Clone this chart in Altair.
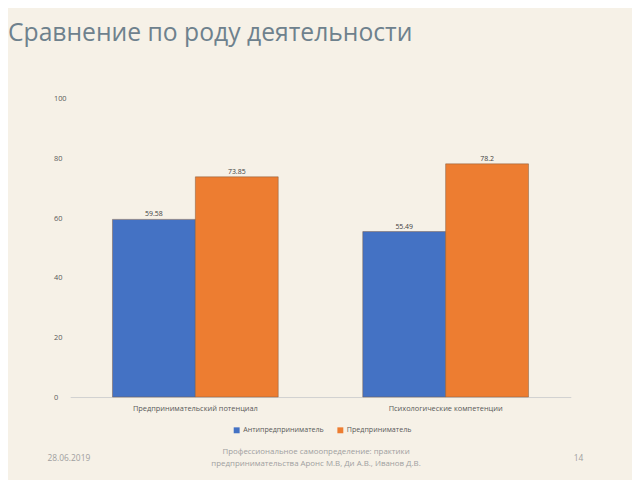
import altair as alt
import pandas as pd

categories = ["Предпринимательский потенциал", "Психологические компетенции"]
series = ["Антипредприниматель", "Предприниматель"]
anti_values = [59.58, 55.49]
pred_values = [73.85, 78.2]
anti_labels = ["59.58", "55.49"]
pred_labels = ["73.85", "78.2"]
y_ticks = [0, 20, 40, 60, 80, 100]
colors = ["#4472C4", "#ED7D31"]

rows = []
for i, c in enumerate(categories):
    rows.append({"cat": c, "ser": series[0], "val": anti_values[i], "lab": anti_labels[i]})
    rows.append({"cat": c, "ser": series[1], "val": pred_values[i], "lab": pred_labels[i]})
df = pd.DataFrame(rows)

FONT = "Open Sans"

x_enc = alt.X("cat:N", sort=categories, title=None,
              scale=alt.Scale(paddingInner=0, paddingOuter=0),
              axis=alt.Axis(labelAngle=0, ticks=False, labelPadding=8, labelFontSize=7.5,
                            labelColor="#595959", labelFont=FONT, domainColor="#d0d0d0",
                            domainWidth=1, labelLimit=300))
xo_enc = alt.XOffset("ser:N", sort=series,
                     scale=alt.Scale(paddingOuter=0.51, paddingInner=0))
y_enc = alt.Y("val:Q", title=None,
              scale=alt.Scale(domain=[0, 100], nice=False),
              axis=alt.Axis(values=y_ticks, grid=False, domain=False, ticks=False,
                            labelAlign="left", labelPadding=17, labelFontSize=7.5,
                            labelColor="#595959", labelFont=FONT))
color_enc = alt.Color("ser:N", sort=series,
                      scale=alt.Scale(domain=series, range=colors),
                      legend=alt.Legend(title=None, orient="none", legendX=165, legendY=332,
                                        direction="horizontal", symbolType="square",
                                        symbolSize=36, symbolStrokeWidth=0,
                                        labelFontSize=7.2, labelColor="#595959", labelFont=FONT,
                                        labelOffset=3, columnPadding=13, padding=0))

bars = alt.Chart(df).mark_bar(strokeWidth=0.8, strokeOpacity=0.6, stroke="#7a5a40").encode(
    x=x_enc, xOffset=xo_enc, y=y_enc, color=color_enc)

labels = alt.Chart(df).mark_text(dy=-5, fontSize=7, color="#404040", font=FONT).encode(
    x=alt.X("cat:N", sort=categories), xOffset=alt.XOffset("ser:N", sort=series),
    y="val:Q", text="lab:N")

footer_df = pd.DataFrame({
    "t": ["28.06.2019", "Профессиональное самоопределение: практики",
          "предпринимательства Аронс М.В, Ди А.В., Иванов Д.В.", "14"],
    "px": [-23, 249, 249, 510],
    "py": [364, 358, 370, 364],
    "al": ["left", "center", "center", "left"],
})
foot_left = alt.Chart(footer_df[footer_df.al == "left"]).mark_text(
    align="left", baseline="middle", fontSize=8.5, color="#a0a0a0", font=FONT).encode(
    x=alt.X("px:Q", scale=None), y=alt.Y("py:Q", scale=None), text="t:N")
foot_center = alt.Chart(footer_df[footer_df.al == "center"]).mark_text(
    align="center", baseline="middle", fontSize=8, color="#a0a0a0", font=FONT).encode(
    x=alt.X("px:Q", scale=None), y=alt.Y("py:Q", scale=None), text="t:N")

chart = alt.layer(bars, labels, foot_left, foot_center).properties(
    width=507, height=302,
    autosize=alt.AutoSizeParams(type="none"),
    padding={"left": 63, "top": 89, "right": 62, "bottom": 81},
    background="#F6F1E7",
    title=alt.TitleParams("Сравнение по роду деятельности", anchor="start", dx=-63,
                          offset=50, fontSize=25, font=FONT, fontWeight="normal",
                          color="#6E818D", frame="group"),
).configure_view(stroke=None)

chart.save("out.html", embed_options={"renderer": "svg", "actions": False})
